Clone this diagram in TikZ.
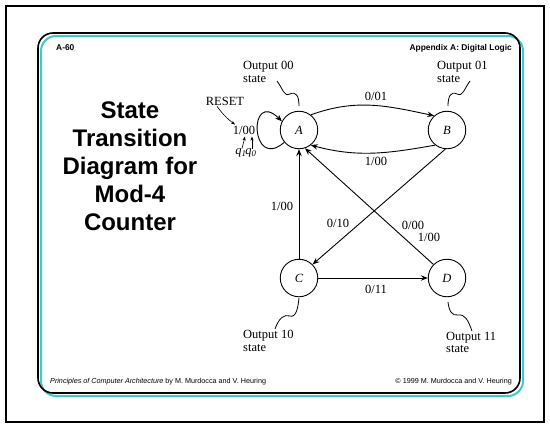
\documentclass[tikz,border=0pt]{standalone}
\usepackage{fontspec}
\setmainfont{Liberation Serif}
\newfontfamily\headsans{Liberation Sans}
\usetikzlibrary{arrows.meta,calc}
\definecolor{shadowcyan}{RGB}{64,200,205}

\begin{document}
\begin{tikzpicture}[x=1pt,y=-1pt,
  state/.style={circle,draw,line width=0.9pt,minimum size=37.5pt,inner sep=0pt,
    font=\fontsize{12.5}{14}\selectfont\itshape},
  arr/.style={-{Stealth[length=7pt,width=5.5pt,inset=2.5pt]},line width=0.9pt},
  sarr/.style={-{Stealth[length=4pt,width=3pt,inset=1pt]},line width=0.6pt},
  lbl/.style={font=\fontsize{12.5}{13}\selectfont,inner sep=0pt},
  note/.style={align=left,anchor=north west,font=\fontsize{12.5}{12.5}\selectfont,inner sep=0pt},
  squig/.style={line width=0.8pt},
  head/.style={font=\headsans\bfseries\fontsize{8.4}{10}\selectfont,inner sep=0pt},
  foot/.style={font=\headsans\fontsize{7.2}{9}\selectfont,inner sep=0pt},
]
\useasboundingbox (0,0) rectangle (550,426);

% page border
\draw[line width=2pt] (6,6) rectangle (544,422);
% slide frame with its cyan shadow
\draw[line width=2pt,draw=shadowcyan,rounded corners=15pt] (41,36) rectangle (523,396);
\draw[line width=1.6pt,rounded corners=15pt] (38,33) rectangle (520,393);

% header and footer
\node[head,anchor=west] (page) at (56,48) {A-60};
\node[head,anchor=east] (chapter) at (512,48) {Appendix A: Digital Logic};
\node[foot,anchor=west] (book) at (50,382)
  {\textit{Principles of Computer Architecture} by M. Murdocca and V. Heuring};
\node[foot,anchor=east] (copyright) at (512,382)
  {\textcopyright{} 1999 M. Murdocca and V. Heuring};

% title
\node[align=center,font=\headsans\bfseries\fontsize{24}{28}\selectfont,inner sep=0pt]
  (title) at (130,166) {State\\Transition\\Diagram for\\Mod-4\\Counter};

% states
\node[state] (A) at (299,130) {A};
\node[state] (B) at (447,130) {B};
\node[state] (C) at (299,278) {C};
\node[state] (D) at (447,278) {D};

% transitions
\draw[arr] (A.52) to[out=20,in=168] (B.132);
\draw[arr] (B.232) to[out=190,in=-15] (A.-52);
\draw[arr] (C) -- (A);
\draw[arr] (B.265) -- (C.45);
\draw[arr] (D.135) -- (A.-72);
\draw[arr] (C) -- (D);
\draw[arr] (A.220) .. controls (250,172) and (248,88) .. (A.153);

% transition labels
\node[lbl] (lAB) at (376,96) {0/01};
\node[lbl] (lBA) at (376,161) {1/00};
\node[lbl] (lCA) at (282,206) {1/00};
\node[lbl] (lBC) at (338,223) {0/10};
\node[lbl] (lDA0) at (413,225) {0/00};
\node[lbl] (lDA1) at (429,237) {1/00};
\node[lbl] (lCD) at (376,289) {0/11};

% reset loop annotation
\node[lbl] (reset) at (225,101) {RESET};
\node[lbl] (loop) at (244,130) {1/00};
\node[lbl] (q1) at (241,153) {\itshape q\textsubscript{1}};
\node[lbl] (q0) at (251,153) {\itshape q\textsubscript{0}};
\draw[sarr] ([xshift=-8pt,yshift=-1pt]reset.south) to[bend right=8] ([xshift=-9pt,yshift=1pt]loop.north);
\draw[sarr] ([xshift=1pt]q1.north) -- (245,136.5);
\draw[sarr] ([xshift=1pt]q0.north) -- (252,136.5);

% output annotations
\node[note] (oA) at (243,61) {Output 00\\state};
\node[note] (oB) at (437,61) {Output 01\\state};
\node[note] (oC) at (243,330) {Output 10\\state};
\node[note] (oD) at (446,332) {Output 11\\state};

\coordinate (sA1) at (277,81);  \coordinate (sA2) at (299,106);
\coordinate (sB1) at (470,81);  \coordinate (sB2) at (448,106);
\coordinate (sC1) at (299,298); \coordinate (sC2) at (275,329);
\coordinate (sD1) at (448,302); \coordinate (sD2) at (472,331);

\draw[squig] (sA1) .. controls (283,89) and (284,97) .. (290,94)
  .. controls (296,91) and (299,96) .. (sA2);
\draw[squig] (sB1) .. controls (464,89) and (463,97) .. (457,94)
  .. controls (451,91) and (448,96) .. (sB2);
\draw[squig] (sC1) .. controls (298,308) and (296,318) .. (290,316)
  .. controls (284,314) and (279,318) .. (sC2);
\draw[squig] (sD1) .. controls (449,311) and (452,316) .. (458,315)
  .. controls (465,314) and (468,320) .. (sD2);
\end{tikzpicture}
\end{document}
